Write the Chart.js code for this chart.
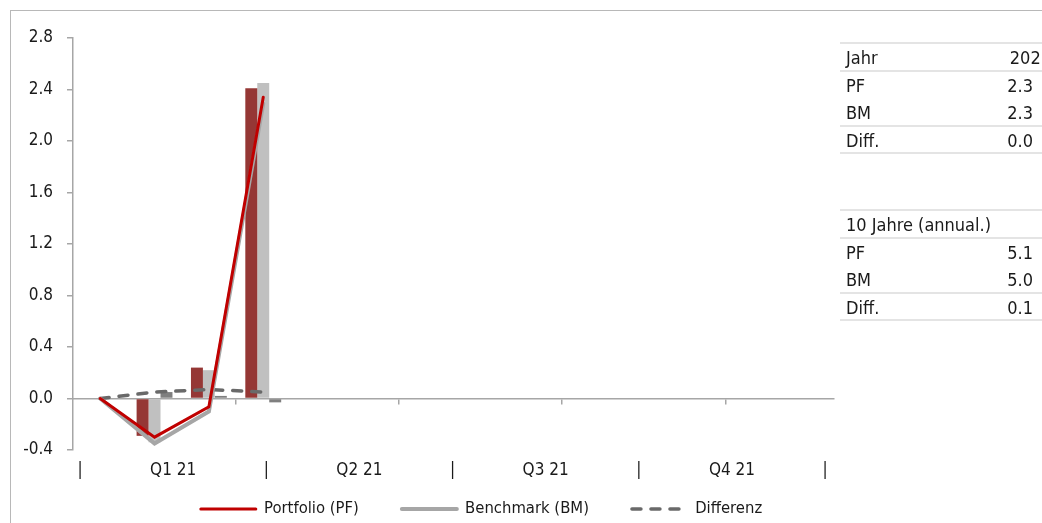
<!DOCTYPE html>
<html>
<head>
<meta charset="utf-8">
<script src="https://cdn.jsdelivr.net/npm/chart.js@4.4.0/dist/chart.umd.min.js"></script>
<style>
    html, body { margin: 0; padding: 0; background: #fff; width: 1042px; height: 523px; overflow: hidden; }
    #frame { position: absolute; left: 10px; top: 10px; width: 1100px; height: 600px; border: 1.5px solid #b8b8b8; box-sizing: border-box; }
    #wrap { position: absolute; left: 0; top: 0; width: 1042px; height: 530px; }
    .tbl { position: absolute; left: 840px; width: 230px; border-top: 2px solid #e4e4e4;
           font-family: 'Liberation Sans Narrow', 'DejaVu Sans Condensed', sans-serif; font-size: 18px; color: #1a1a1a; }
    .row { position: relative; height: 27.5px; line-height: 27px; box-sizing: border-box; padding-left: 6px; white-space: nowrap; }
    .row.line { border-bottom: 2px solid #e4e4e4; }
    .row .v { position: absolute; left: 0; top: 0; width: 193px; text-align: right; }
    .row .v.head { width: 211px; }
</style>
</head>
<body>
<div id="frame"></div>
<div id="wrap"><canvas id="chart"></canvas></div>
<div class="tbl" id="tblYear" style="top:42px"></div>
<div class="tbl" id="tblTen" style="top:209px"></div>
<script>
// hidden month categories (start point + 12 months + spare slot)
const months = ['Dez 20', 'Jan 21', 'Feb 21', 'Mrz 21', 'Apr 21', 'Mai 21', 'Jun 21',
                'Jul 21', 'Aug 21', 'Sep 21', 'Okt 21', 'Nov 21', 'Dez 21', ''];
const quarters = ['Q1 21', 'Q2 21', 'Q3 21', 'Q4 21'];
const yTicks = [-0.4, 0.0, 0.4, 0.8, 1.2, 1.6, 2.0, 2.4, 2.8];

// monthly returns (bars)
const pfMonthly = [null, -0.29, 0.24, 2.41];
const bmMonthly = [null, -0.34, 0.22, 2.45];
const diffMonthly = [null, 0.05, 0.02, -0.03];

// cumulative returns (lines)
const pfCum = [0, -0.30, -0.065, 2.34];
const bmCum = [0, -0.35, -0.10, 2.29];
const diffCum = [0, 0.05, 0.07, 0.05];

const yearRows = [['Jahr', '2021'], ['PF', '2.3'], ['BM', '2.3'], ['Diff.', '0.0']];
const tenRows = [['10 Jahre (annual.)', ''], ['PF', '5.1'], ['BM', '5.0'], ['Diff.', '0.1']];

function fillTable(id, rows) {
    const el = document.getElementById(id);
    rows.forEach((r, i) => {
        const row = document.createElement('div');
        row.className = 'row' + (i === 1 ? '' : ' line');
        row.textContent = r[0];
        const v = document.createElement('span');
        v.className = 'v' + (i === 0 ? ' head' : '');
        v.textContent = r[1];
        row.appendChild(v);
        el.appendChild(row);
    });
}
fillTable('tblYear', yearRows);
fillTable('tblTen', tenRows);

const FONT = "'Liberation Sans Narrow', 'DejaVu Sans Condensed', sans-serif";
Chart.defaults.font.family = FONT;
Chart.defaults.color = '#1a1a1a';
const axisGray = '#a6a6a6';

// quarter label row: separators at whole numbers, labels in between
const qTickVals = [0, 0.5, 1, 1.5, 2, 2.5, 3, 3.5, 4];

// draws the quarter row under the plot, placed by the q scale
const quarterLabels = {
    id: 'quarterLabels',
    afterDraw(c) {
        const s = c.scales.q;
        const ctx = c.ctx;
        ctx.save();
        ctx.font = '17px ' + FONT;
        ctx.fillStyle = '#1a1a1a';
        ctx.textAlign = 'center';
        ctx.textBaseline = 'middle';
        qTickVals.forEach(v => {
            const txt = Number.isInteger(v) ? '|' : quarters[Math.floor(v)];
            ctx.fillText(txt, s.getPixelForValue(v), c.chartArea.bottom + 21);
        });
        ctx.restore();
    }
};

const lineBase = { type: 'line', pointRadius: 0, pointHoverRadius: 0, pointStyle: 'line', tension: 0,
                   borderCapStyle: 'round', borderJoinStyle: 'miter', fill: false, order: 1 };
const barBase = { type: 'bar', order: 2, categoryPercentage: 0.66, barPercentage: 1.0 };

new Chart(document.getElementById('chart'), {
    data: {
        labels: months,
        datasets: [
            { ...lineBase, label: 'Portfolio (PF)', data: pfCum, borderColor: '#c00000', borderWidth: 3 },
            { ...lineBase, label: 'Benchmark (BM)', data: bmCum, borderColor: '#a6a6a6', borderWidth: 4 },
            { ...lineBase, label: 'Differenz', data: diffCum, borderColor: '#696969', borderWidth: 3.5,
              borderDash: [9, 10] },
            { ...barBase, label: 'PF', data: pfMonthly, backgroundColor: '#953735' },
            { ...barBase, label: 'BM', data: bmMonthly, backgroundColor: '#c0c0c0' },
            { ...barBase, label: 'Diff.', data: diffMonthly, backgroundColor: '#7f7f7f' }
        ]
    },
    plugins: [quarterLabels],
    options: {
        responsive: true,
        maintainAspectRatio: false,
        animation: false,
        layout: { padding: { left: 0, right: 79, top: 38, bottom: 2.75 } },
        plugins: {
            tooltip: { enabled: false },
            legend: {
                position: 'bottom',
                labels: {
                    usePointStyle: true,
                    pointStyleWidth: 55,
                    padding: 43,
                    font: { size: 16.5 },
                    color: '#1a1a1a',
                    generateLabels: c => {
                        const items = Chart.defaults.plugins.legend.labels.generateLabels(c);
                        return items.filter(it => it.datasetIndex < 3).map(it => {
                            const ds = c.data.datasets[it.datasetIndex];
                            it.lineDash = ds.borderDash || [];
                            it.lineCap = 'round';
                            it.lineWidth = ds.borderWidth;
                            it.strokeStyle = ds.borderColor;
                            return it;
                        });
                    }
                }
            }
        },
        scales: {
            x: {
                type: 'category',
                position: { y: 0 },
                offset: true,
                grid: {
                    offset: true,
                    drawOnChartArea: false,
                    drawTicks: true,
                    tickLength: 5,
                    lineWidth: 1.5,
                    color: ctx => (ctx.index > 0 && ctx.index < months.length && ctx.index % 3 === 0) ? axisGray : 'rgba(0,0,0,0)'
                },
                border: { display: true, color: axisGray, width: 1.5 },
                ticks: { display: false }
            },
            q: {
                type: 'linear',
                position: 'bottom',
                min: -0.0376,
                max: 4.048,
                afterFit: s => { s.height = 7.75; },
                grid: { display: false, drawTicks: false },
                border: { display: false },
                ticks: { display: false }
            },
            y: {
                type: 'linear',
                position: 'left',
                min: -0.4,
                max: 2.8,
                afterBuildTicks: s => { s.ticks = yTicks.map(v => ({ value: v })); },
                afterFit: s => { s.width = 73; },
                grid: { drawOnChartArea: false, drawTicks: true, tickLength: 6, color: axisGray, lineWidth: 1.5 },
                border: { display: true, color: axisGray, width: 1.5 },
                ticks: {
                    padding: 14,
                    font: { size: 17 },
                    color: '#1a1a1a',
                    callback: v => Number(v).toFixed(1)
                }
            },
            y2: {
                type: 'linear',
                position: 'right',
                afterFit: s => { s.width = 129; },
                grid: { display: false, drawTicks: false },
                border: { display: false },
                ticks: { display: false }
            }
        }
    }
});
</script>
</body>
</html>
